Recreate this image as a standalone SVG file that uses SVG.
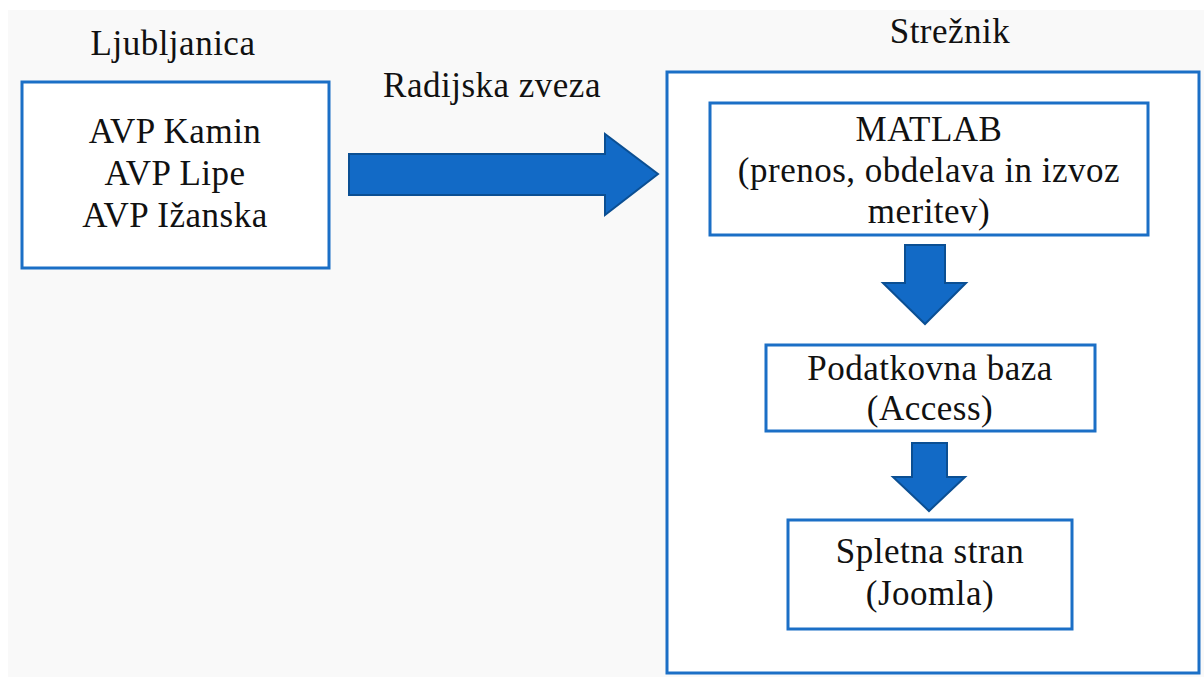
<svg xmlns="http://www.w3.org/2000/svg" width="1204" height="682" viewBox="0 0 1204 682">
<style>
.bg{fill:#f9f9f9}
.box{fill:#ffffff;stroke:#1b6fc6;stroke-width:3}
.arrow{fill:#126ac6;stroke:#0b4f93;stroke-width:2;stroke-linejoin:miter}
text{font-family:"Liberation Serif","Times New Roman",serif;font-size:35px;letter-spacing:0.5px;fill:#111111;text-anchor:middle}
</style>
<rect x="0" y="0" width="1204" height="682" fill="#ffffff"/>
<rect class="bg" x="8" y="10" width="1196" height="667"/>
<text x="173" y="55">Ljubljanica</text>
<text x="492" y="97">Radijska zveza</text>
<text x="950" y="43">Strežnik</text>
<g id="ljubljanica">
<rect class="box" x="22" y="82" width="307" height="186"/>
<text x="175" y="143">AVP Kamin</text>
<text x="175" y="185">AVP Lipe</text>
<text x="175" y="227">AVP Ižanska</text>
</g>
<g id="streznik">
<rect class="box" x="667" y="72" width="532" height="601"/>
</g>
<g id="matlab">
<rect class="box" x="710" y="103" width="438" height="132"/>
<text x="929" y="141">MATLAB</text>
<text x="929" y="182">(prenos, obdelava in izvoz</text>
<text x="929" y="223">meritev)</text>
</g>
<g id="baza">
<rect class="box" x="766" y="345" width="329" height="86"/>
<text x="930" y="380">Podatkovna baza</text>
<text x="930" y="420">(Access)</text>
</g>
<g id="spletna">
<rect class="box" x="788" y="520" width="284" height="109"/>
<text x="930" y="563">Spletna stran</text>
<text x="930" y="605">(Joomla)</text>
</g>
<g id="connectors">
<polygon class="arrow" points="349,154 605,154 605,134 658,174 605,215 605,195 349,195"/>
<polygon class="arrow" points="905,245 945,245 945,283 966,283 925,324 883,283 905,283"/>
<polygon class="arrow" points="912,443 947,443 947,477 965,477 929,511 893,477 912,477"/>
</g>
</svg>
